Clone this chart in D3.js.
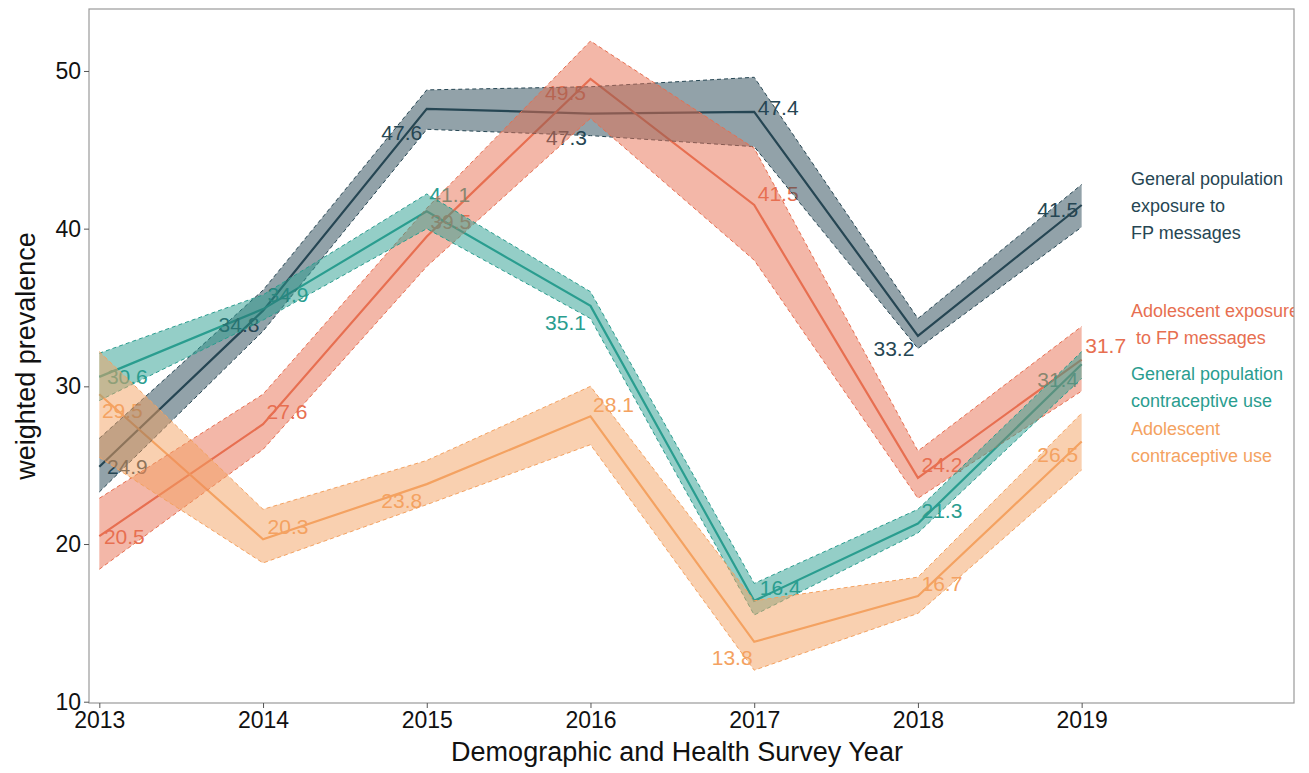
<!DOCTYPE html>
<html>
<head>
<meta charset="utf-8">
<script src="https://cdn.jsdelivr.net/npm/d3@7"></script>
<style>
  html, body { margin: 0; padding: 0; background: #fff; }
  svg { display: block; font-family: "Liberation Sans", Arial, sans-serif; }
</style>
</head>
<body>
<svg id="chart" width="1309" height="773"></svg>
<script>
// Survey years
const years = [2013, 2014, 2015, 2016, 2017, 2018, 2019];

// General population exposure to FP messages
const genExposure   = [24.9, 34.8, 47.6, 47.3, 47.4, 33.2, 41.5];
const genExposureLo = [23.3, 33.5, 46.3, 45.9, 45.2, 32.4, 40.1];
const genExposureHi = [26.7, 36.1, 48.8, 49.0, 49.6, 34.3, 42.8];

// Adolescent exposure to FP messages
const adoExposure   = [20.5, 27.6, 39.5, 49.5, 41.5, 24.2, 31.7];
const adoExposureLo = [18.4, 26.0, 37.6, 47.0, 38.0, 22.9, 29.7];
const adoExposureHi = [22.9, 29.5, 41.3, 51.9, 45.1, 25.9, 33.8];

// General population contraceptive use
const genContra   = [30.6, 34.9, 41.1, 35.1, 16.4, 21.3, 31.4];
const genContraLo = [29.1, 34.2, 40.0, 34.3, 15.5, 20.7, 30.5];
const genContraHi = [32.1, 35.8, 42.2, 36.0, 17.5, 22.2, 32.2];

// Adolescent contraceptive use
const adoContra   = [29.5, 20.3, 23.8, 28.1, 13.8, 16.7, 26.5];
const adoContraLo = [25.5, 18.8, 22.5, 26.3, 12.0, 15.6, 24.7];
const adoContraHi = [32.2, 22.2, 25.3, 30.0, 16.4, 17.9, 28.3];

// Axis ticks
const yTicks = [10, 20, 30, 40, 50];
const xTicks = years;

// Series legend labels (one entry per text line)
const genExposureName = ["General population", "exposure to", "FP messages"];
const adoExposureName = ["Adolescent exposure", " to FP messages"];
const genContraName   = ["General population", "contraceptive use"];
const adoContraName   = ["Adolescent", "contraceptive use"];

// ---- styling / layout ----
const colors = { dark: "#264653", red: "#e76f51", teal: "#2a9d8f", orange: "#f4a261" };

// value-label nudges [dx, dy] in pixels
const nudgeDark   = [[28, 0], [-24, 14], [-25, 24], [-24, 24], [24, -4], [-24, 13], [-24, 4]];
const nudgeRed    = [[25, 0], [24, -13], [24, -15], [-25, 14], [24, -12], [24, -13], [24, -14]];
const nudgeTeal   = [[28, 0], [25, -15], [23, -17], [-25, 17], [26, -13], [24, -13], [-24, 15]];
const nudgeOrange = [[23, 16], [25, -13], [-25, 16], [23, -12], [-22, 16], [24, -13], [-24, 13]];

const series = [
  { v: genExposure, lo: genExposureLo, hi: genExposureHi, color: colors.dark,   nudge: nudgeDark,   name: genExposureName, nameY: [185, 212, 239] },
  { v: adoExposure, lo: adoExposureLo, hi: adoExposureHi, color: colors.red,    nudge: nudgeRed,    name: adoExposureName, nameY: [317, 343.5] },
  { v: genContra,   lo: genContraLo,   hi: genContraHi,   color: colors.teal,   nudge: nudgeTeal,   name: genContraName,   nameY: [380, 407] },
  { v: adoContra,   lo: adoContraLo,   hi: adoContraHi,   color: colors.orange, nudge: nudgeOrange, name: adoContraName,   nameY: [435, 462] }
];

const panel = { left: 89, right: 1294, top: 9, bottom: 703 };

const x = d3.scaleLinear().domain([2012.937, 2020.297]).range([panel.left, panel.right]);
const y = d3.scaleLinear().domain([9.918, 53.93]).range([panel.bottom, panel.top]);

const svg = d3.select("#chart");

svg.append("defs").append("clipPath").attr("id", "panel-clip")
  .append("rect")
  .attr("x", panel.left).attr("y", panel.top)
  .attr("width", panel.right - panel.left).attr("height", panel.bottom - panel.top);

const plot = svg.append("g").attr("clip-path", "url(#panel-clip)");

const lineGen = d3.line().x((d, i) => x(years[i])).y(d => y(d));

// lines
const lineLayer = plot.append("g");
series.forEach(s => {
  lineLayer.append("path")
    .attr("d", lineGen(s.v))
    .attr("fill", "none")
    .attr("stroke", s.color)
    .attr("stroke-width", 2.2)
    .attr("stroke-linejoin", "miter");
});

// value labels
const textLayer = plot.append("g");
series.forEach(s => {
  textLayer.selectAll(null)
    .data(s.v)
    .join("text")
    .attr("x", (d, i) => x(years[i]) + s.nudge[i][0])
    .attr("y", (d, i) => y(d) + s.nudge[i][1])
    .attr("text-anchor", "middle")
    .attr("dominant-baseline", "central")
    .attr("font-size", 21)
    .attr("fill", s.color)
    .text(d => d3.format(".1f")(d));
});

// confidence ribbons
const areaGen = d3.area()
  .x((d, i) => x(years[i]))
  .y0(d => y(d[0]))
  .y1(d => y(d[1]));

const ribbonLayer = plot.append("g");
series.forEach(s => {
  const pts = s.lo.map((l, i) => [l, s.hi[i]]);
  ribbonLayer.append("path")
    .attr("d", areaGen(pts))
    .attr("fill", s.color)
    .attr("fill-opacity", 0.5)
    .attr("stroke", "none");
  ribbonLayer.append("path")
    .attr("d", lineGen(s.hi))
    .attr("fill", "none").attr("stroke", s.color)
    .attr("stroke-width", 1).attr("stroke-dasharray", "4,3");
  ribbonLayer.append("path")
    .attr("d", lineGen(s.lo))
    .attr("fill", "none").attr("stroke", s.color)
    .attr("stroke-width", 1).attr("stroke-dasharray", "4,3");
});

// series names inside the panel
const nameLayer = plot.append("g");
series.forEach(s => {
  s.name.forEach((line, j) => {
    nameLayer.append("text")
      .attr("x", 1131)
      .attr("y", s.nameY[j])
      .attr("font-size", 18)
      .attr("fill", s.color)
      .style("white-space", "pre")
      .text(line);
  });
});

// panel border
svg.append("rect")
  .attr("x", panel.left).attr("y", panel.top)
  .attr("width", panel.right - panel.left).attr("height", panel.bottom - panel.top)
  .attr("fill", "none").attr("stroke", "#9a9a9a").attr("stroke-width", 1.2);

// axes
const xAxis = svg.append("g")
  .attr("transform", `translate(0,${panel.bottom})`)
  .call(d3.axisBottom(x).tickValues(xTicks).tickFormat(d3.format("d")).tickSize(5).tickPadding(4));
const yAxis = svg.append("g")
  .attr("transform", `translate(${panel.left},0)`)
  .call(d3.axisLeft(y).tickValues(yTicks).tickSize(5).tickPadding(3));

[xAxis, yAxis].forEach(a => {
  a.select(".domain").remove();
  a.selectAll(".tick line").attr("stroke", "#555");
  a.selectAll(".tick text")
    .attr("font-size", 23)
    .attr("fill", "#111")
    .attr("font-family", "'Liberation Sans', Arial, sans-serif");
});

// axis titles
svg.append("text")
  .attr("x", 677).attr("y", 761)
  .attr("text-anchor", "middle")
  .attr("font-size", 27)
  .attr("fill", "#111")
  .text("Demographic and Health Survey Year");

svg.append("text")
  .attr("transform", `translate(35,356) rotate(-90)`)
  .attr("text-anchor", "middle")
  .attr("font-size", 27)
  .attr("fill", "#111")
  .text("weighted prevalence");
</script>
</body>
</html>
